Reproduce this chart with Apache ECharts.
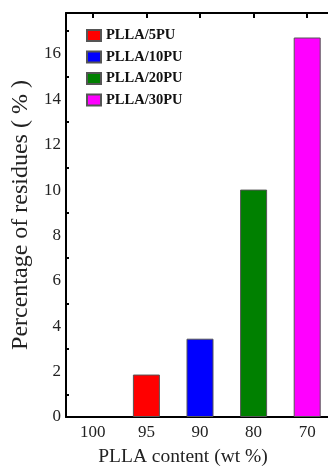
<!DOCTYPE html>
<html><head><meta charset="utf-8">
<script src="https://cdn.jsdelivr.net/npm/echarts@6/dist/echarts.min.js"></script>
<style>html,body{margin:0;padding:0;background:#fff}#c{width:328px;height:468px}</style>
</head><body><div id="c"></div>
<script>
const categories = ['100', '95', '90', '80', '70'];
const seriesNames = ['PLLA/5PU', 'PLLA/10PU', 'PLLA/20PU', 'PLLA/30PU'];
const pu5 = [null, 1.87, null, null, null];
const pu10 = [null, null, 3.45, null, null];
const pu20 = [null, null, null, 10.02, null];
const pu30 = [null, null, null, null, 16.72];
const colors = ['#ff0000', '#0000ff', '#008000', '#ff00ff'];
const yTicks = [0, 2, 4, 6, 8, 10, 12, 14, 16];

const font = 'Liberation Serif, Times New Roman, serif';
const chart = echarts.init(document.getElementById('c'), null, {renderer: 'canvas'});
const dataSets = [pu5, pu10, pu20, pu30];
chart.setOption({
  animation: false,
  backgroundColor: '#fff',
  grid: {left: 66, top: 13, bottom: 51, width: 268, containLabel: false, outerBoundsMode: 'none'},
  legend: {
    orient: 'vertical', left: 81, top: 23, itemWidth: 14, itemHeight: 11, itemGap: 6.5,
    icon: 'rect',
    textStyle: {fontFamily: font, fontWeight: 'bold', fontSize: 14.5, color: '#111'},
    data: seriesNames
  },
  xAxis: [{
    type: 'category', data: categories, position: 'bottom',
    axisLine: {lineStyle: {color: '#000', width: 2}},
    axisTick: {inside: true, alignWithLabel: true, length: 5, lineStyle: {width: 2, color: '#000'}},
    axisLabel: {fontFamily: font, fontSize: 17, color: '#222', margin: 7},
    name: 'PLLA content (wt %)', nameLocation: 'middle', nameGap: 30,
    nameTextStyle: {fontFamily: font, fontSize: 19.5, color: '#222', padding: [0, 34, 0, 0]}
  }, {
    type: 'category', data: categories, position: 'top',
    axisLine: {show: true, lineStyle: {color: '#000', width: 2}},
    axisTick: {show: true, inside: true, alignWithLabel: true, length: 5, lineStyle: {width: 2, color: '#000'}},
    axisLabel: {show: false}
  }],
  yAxis: [{
    type: 'value', min: 0, max: 17.8, interval: 2,
    axisLine: {show: true, lineStyle: {color: '#000', width: 2}},
    axisTick: {inside: true, length: 5, lineStyle: {width: 2, color: '#000'}},
    minorTick: {show: true, splitNumber: 2, length: 3, lineStyle: {width: 2, color: '#000'}},
    splitLine: {show: false},
    axisLabel: {fontFamily: font, fontSize: 17, color: '#222', margin: 5,
      formatter: v => yTicks.includes(v) ? String(v) : ''},
    name: 'Percentage of residues ( % )', nameLocation: 'middle', nameGap: 28,
    nameTextStyle: {fontFamily: font, fontSize: 24, color: '#222'}
  }],
  series: dataSets.map((d, i) => ({
    name: seriesNames[i], type: 'bar', data: d, barWidth: 27, barGap: '-100%',
    itemStyle: {color: colors[i], borderColor: '#555', borderWidth: 1}
  }))
});
</script></body></html>
